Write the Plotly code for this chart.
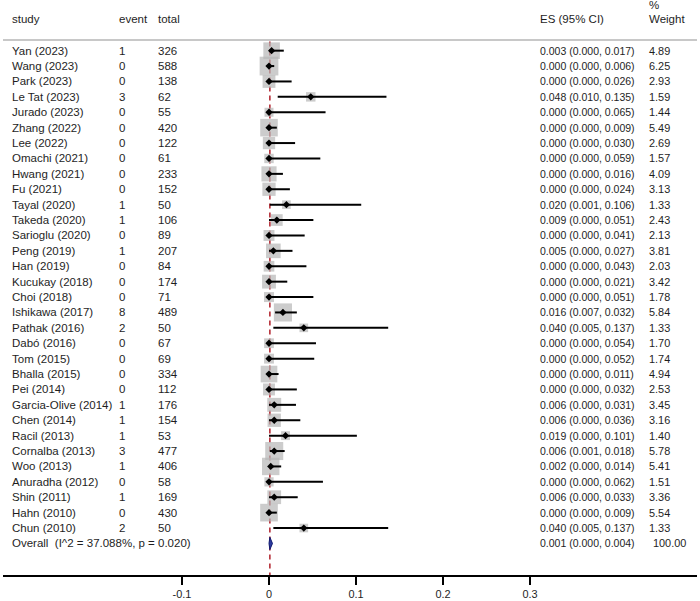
import numpy as np
import plotly.graph_objects as go

studies = ["Yan (2023)", "Wang (2023)", "Park (2023)", "Le Tat (2023)", "Jurado (2023)",
           "Zhang (2022)", "Lee (2022)", "Omachi (2021)", "Hwang (2021)", "Fu (2021)",
           "Tayal (2020)", "Takeda (2020)", "Sarioglu (2020)", "Peng (2019)", "Han (2019)",
           "Kucukay (2018)", "Choi (2018)", "Ishikawa (2017)", "Pathak (2016)", "Dabó (2016)",
           "Tom (2015)", "Bhalla (2015)", "Pei (2014)", "Garcia-Olive (2014)", "Chen (2014)",
           "Racil (2013)", "Cornalba (2013)", "Woo (2013)", "Anuradha (2012)", "Shin (2011)",
           "Hahn (2010)", "Chun (2010)"]
events = [1, 0, 0, 3, 0, 0, 0, 0, 0, 0, 1, 1, 0, 1, 0, 0, 0, 8, 2, 0, 0, 0, 0, 1, 1, 1, 3, 1, 0, 1, 0, 2]
totals = [326, 588, 138, 62, 55, 420, 122, 61, 233, 152, 50, 106, 89, 207, 84, 174, 71, 489, 50, 67,
          69, 334, 112, 176, 154, 53, 477, 406, 58, 169, 430, 50]
es = [0.003, 0.000, 0.000, 0.048, 0.000, 0.000, 0.000, 0.000, 0.000, 0.000, 0.020, 0.009, 0.000, 0.005,
      0.000, 0.000, 0.000, 0.016, 0.040, 0.000, 0.000, 0.000, 0.000, 0.006, 0.006, 0.019, 0.006, 0.002,
      0.000, 0.006, 0.000, 0.040]
ci_lo = [0.000, 0.000, 0.000, 0.010, 0.000, 0.000, 0.000, 0.000, 0.000, 0.000, 0.001, 0.000, 0.000, 0.000,
         0.000, 0.000, 0.000, 0.007, 0.005, 0.000, 0.000, 0.000, 0.000, 0.000, 0.000, 0.000, 0.001, 0.000,
         0.000, 0.000, 0.000, 0.005]
ci_hi = [0.017, 0.006, 0.026, 0.135, 0.065, 0.009, 0.030, 0.059, 0.016, 0.024, 0.106, 0.051, 0.041, 0.027,
         0.043, 0.021, 0.051, 0.032, 0.137, 0.054, 0.052, 0.011, 0.032, 0.031, 0.036, 0.101, 0.018, 0.014,
         0.062, 0.033, 0.009, 0.137]
weights = [4.89, 6.25, 2.93, 1.59, 1.44, 5.49, 2.69, 1.57, 4.09, 3.13, 1.33, 2.43, 2.13, 3.81, 2.03, 3.42,
           1.78, 5.84, 1.33, 1.70, 1.74, 4.94, 2.53, 3.45, 3.16, 1.40, 5.78, 5.41, 1.51, 3.36, 5.54, 1.33]

overall_label = "Overall\u00a0 (I^2 = 37.088%, p = 0.020)"
overall_es, overall_lo, overall_hi = 0.001, 0.000, 0.004
overall_weight = "100.00"

x_ticks = [-0.1, 0, 0.1, 0.2, 0.3]
x_ticktext = ["-0.1", "0", "0.1", "0.2", "0.3"]

FONT = "Arial, Liberation Sans, sans-serif"
TXT = "#1e1e1e"
FS = 11.5      # label columns
FS_ES = 10.5   # ES (95% CI) column
FS_W = 10.9    # weight column

n = len(studies)
rows = -np.arange(n)
y_overall = -n

def px(p):
    # pixel column -> paper x (plot area runs 3..697)
    return (p - 3) / 694.0

fig = go.Figure()

# weight boxes
fig.add_trace(go.Scatter(
    x=es, y=rows, mode="markers",
    marker=dict(symbol="square", size=7.5 * np.sqrt(weights), color="#b6b6b6", line=dict(width=0)),
    hoverinfo="skip", showlegend=False))

# confidence intervals + point estimates
err_plus = np.array(ci_hi) - np.array(es)
err_minus = np.array(es) - np.array(ci_lo)
fig.add_trace(go.Scatter(
    x=es, y=rows, mode="markers",
    marker=dict(symbol="diamond", size=5.6, color="black"),
    error_x=dict(type="data", symmetric=False, array=err_plus, arrayminus=err_minus,
                 width=0, thickness=2, color="black"),
    hoverinfo="skip", showlegend=False))

# overall diamond
h = 0.4
fig.add_trace(go.Scatter(
    x=[overall_lo, overall_es, overall_hi, overall_es, overall_lo],
    y=[y_overall, y_overall + h, y_overall, y_overall - h, y_overall],
    mode="lines", fill="toself", fillcolor="#2b3a9e",
    line=dict(color="#101a70", width=1), hoverinfo="skip", showlegend=False))

y_top = 3.29
y_bot = -34.05
y_head_line = 0.69

# overall effect dashed line
fig.add_shape(type="line", xref="x", yref="y", x0=overall_es, x1=overall_es,
              y0=y_head_line - 0.1, y1=y_bot, line=dict(color="#b0202a", width=1.5, dash="5px,4px"),
              layer="below")
# header line
fig.add_shape(type="line", xref="paper", yref="y", x0=0, x1=1, y0=y_head_line, y1=y_head_line,
              line=dict(color="#c8c8c8", width=2))

def txt(x, y, s, size=FS):
    fig.add_annotation(x=px(x), y=y, xref="paper", yref="y", text=s, showarrow=False,
                       xanchor="left", yanchor="middle", font=dict(family=FONT, size=size, color=TXT))

# headers
y_head = 2.06
txt(10, y_head, "study")
txt(117, y_head, "event")
txt(156, y_head, "total")
txt(538, y_head, "ES (95% CI)")
txt(647, y_head, "Weight")
txt(647, 2.95, "%")

for i in range(n):
    y = rows[i]
    txt(10, y, studies[i])
    txt(117, y, str(events[i]))
    txt(156, y, str(totals[i]))
    txt(538, y, "%.3f (%.3f, %.3f)" % (es[i], ci_lo[i], ci_hi[i]), FS_ES)
    txt(647, y, "%.2f" % weights[i], FS_W)

txt(10, y_overall, overall_label)
txt(538, y_overall, "%.3f (%.3f, %.3f)" % (overall_es, overall_lo, overall_hi), FS_ES)
txt(651, y_overall, overall_weight, FS_W)

fig.update_layout(
    width=700, height=601, autosize=False,
    margin=dict(l=3, r=3, t=0, b=26),
    paper_bgcolor="white", plot_bgcolor="white",
    xaxis=dict(range=[(3 - 269) / 870.0, (697 - 269) / 870.0], tickvals=x_ticks, ticktext=x_ticktext,
               showgrid=False, zeroline=False, showline=True, linecolor="black", linewidth=1.5,
               ticks="outside", ticklen=8, tickwidth=1.5, tickcolor="black",
               tickfont=dict(family=FONT, size=FS_W, color=TXT)),
    yaxis=dict(range=[y_bot, y_top], visible=False, showgrid=False, zeroline=False),
)

# page body has a default 8px margin; drop it so the figure fills the window
fig.write_html("out.html", config={"displayModeBar": False},
               post_script="document.body.style.margin='0';document.body.style.overflow='hidden';")
